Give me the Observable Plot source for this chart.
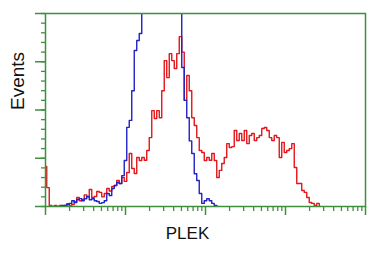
<!DOCTYPE html>
<html>
<head>
<meta charset="utf-8">
<script src="https://cdn.jsdelivr.net/npm/d3@7"></script>
<script src="https://cdn.jsdelivr.net/npm/@observablehq/plot@0.6"></script>
<style>
  html, body { margin: 0; padding: 0; background: #fff; }
</style>
</head>
<body>
<div id="chart"></div>
<script>
// Histogram channels: 32 channels per decade on a 4-decade log axis (1 .. 10^4)
const channelsPerDecade = 32;
const xLabel = "PLEK";
const yLabel = "Events";

// Red series (PLEK-transfected), events per channel starting at channel 0
const redCounts = [
  20.7, 9.8, 0.5, 0, 0.5, 0, 0.5, 0, 0.5, 1.5,
  0.5, 1, 2.6, 4.7, 3, 3.6, 6, 5, 8.8, 4.7,
  5.2, 7.8, 7.3, 5, 6.7, 9.3, 8, 10.4, 10.9, 13.5,
  11.9, 15, 13, 17.6, 27.5, 19.7, 17.1, 25.4, 23.8, 25.4,
  24, 29, 35.7, 49.7, 45.6, 49.7, 46, 60, 75.6, 66.8,
  79.2, 75.6, 71.5, 79.2, 88, 80, 55, 67.9, 60, 46,
  42, 35.7, 29, 28, 23.8, 25.4, 24, 27.5, 23.8, 15,
  18.7, 22.3, 25.4, 32.6, 30.6, 31, 39.4, 34.2, 37.8, 34.2,
  39.4, 32.6, 36.8, 37.8, 34.2, 35.7, 36.8, 40.4, 40.9, 39.4,
  35.7, 34.2, 36.8, 35.7, 25.4, 33.2, 28, 29, 30, 32.6,
  20.2, 11.9, 11.9, 8.3, 7.3, 4.7, 2.1, 1.6, 0.5, 1.6,
  0
];

// Blue series (empty-vector control), events per channel starting at channel 6
const blueStart = 6;
const blueCounts = [
  0, 0.5, 0.5, 1, 1.6, 3, 2, 3.6, 4.1, 3,
  4, 5.2, 3.5, 4, 3, 2.6, 1.6, 2, 3, 6.7,
  5.7, 9.3, 10.9, 12.4, 11.9, 16, 23.8, 41, 44.6, 60,
  80.8, 86, 89.6, 108, 118, 128, 136, 144, 150, 155,
  158, 160, 157, 152, 146, 138, 128, 118, 106, 72,
  55, 46, 34, 27.5, 17, 13.5, 6.7, 1.6, 3, 4,
  3, 1.6, 0.5, 0
];

const yMajor = [0, 25, 50, 75, 100];
const yMinor = d3.range(0, 101, 5);
const xMajor = [1, 10, 100, 1000, 10000];
const xMinor = [1, 10, 100, 1000].flatMap(d => d3.range(2, 10).map(k => k * d));

const chan = i => Math.pow(10, i / channelsPerDecade);
const red = redCounts.map((v, i) => ({x: chan(i), y: v}));
const blue = blueCounts.map((v, i) => ({x: chan(i + blueStart), y: v}));

const green = "#3f8f3f";
const font = "'Liberation Sans', Arial, sans-serif";

const chart = Plot.plot({
  width: 385,
  height: 255,
  marginLeft: 45,
  marginRight: 20,
  marginTop: 13,
  marginBottom: 49,
  style: {background: "#fff", fontFamily: font},
  x: {type: "log", domain: [1, 10000], nice: false, axis: null},
  y: {domain: [0, 100], axis: null},
  marks: [
    Plot.line(red, {x: "x", y: "y", curve: "step", stroke: "#e3161c", strokeWidth: 1.4, clip: true}),
    Plot.line(blue, {x: "x", y: "y", curve: "step", stroke: "#2222c4", strokeWidth: 1.4, clip: true}),
    Plot.frame({stroke: green, strokeWidth: 1.5}),
    Plot.axisY({ticks: yMajor, tickSize: 10, tickFormat: () => "", label: null, stroke: green, strokeWidth: 1.5}),
    Plot.axisY({ticks: yMinor, tickSize: 4, tickFormat: () => "", label: null, stroke: green, strokeWidth: 1.3}),
    Plot.axisX({ticks: xMajor, tickSize: 9, tickFormat: () => "", label: null, stroke: green, strokeWidth: 1.5}),
    Plot.axisX({ticks: xMinor, tickSize: 5, tickFormat: () => "", label: null, stroke: green, strokeWidth: 1.3}),
    Plot.text([yLabel], {frameAnchor: "left", rotate: -90, dx: -28, fontSize: 19, fill: "#111", fontFamily: font}),
    Plot.text([xLabel], {frameAnchor: "bottom", dx: -18, dy: 32, fontSize: 17, fill: "#111", fontFamily: font})
  ]
});
document.getElementById("chart").appendChild(chart);
</script>
</body>
</html>
